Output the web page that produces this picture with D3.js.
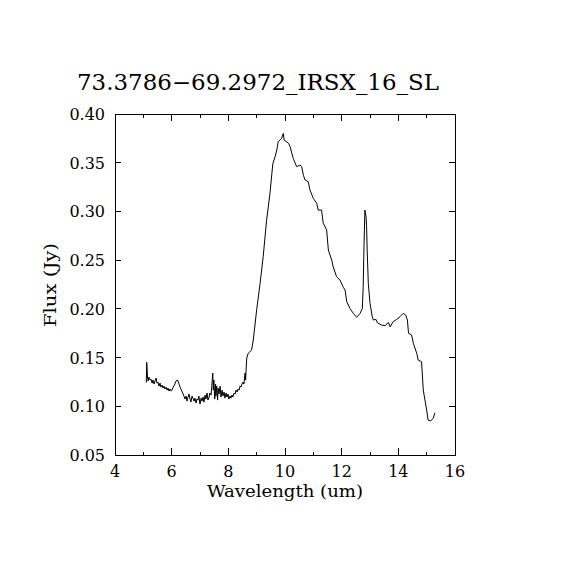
<!DOCTYPE html>
<html>
<head>
<meta charset="utf-8">
<script src="https://cdn.jsdelivr.net/npm/d3@7"></script>
<style>
  body { margin: 0; background: #fff; }
  text { font-family: "DejaVu Serif", "Liberation Serif", serif; fill: #000; }
</style>
</head>
<body>
<svg id="scene" width="570" height="570"></svg>
<script>
const title = '73.3786\u221269.2972_IRSX_16_SL';
const xLabel = 'Wavelength (um)';
const yLabel = 'Flux (Jy)';
const xTicks = [4, 6, 8, 10, 12, 14, 16];
const yTicks = [0.05, 0.10, 0.15, 0.20, 0.25, 0.30, 0.35, 0.40];

// spectrum
const wavelength = [
	5.105, 5.12, 5.15, 5.17, 5.20, 5.24, 5.27, 5.31, 5.34, 5.38, 5.41, 5.45, 5.48, 5.52, 5.55, 5.59,
	5.62, 5.66, 5.69, 5.73, 5.76, 5.80, 5.84, 5.87, 5.91, 5.94, 5.98, 6.01, 6.05, 6.10, 6.15, 6.21,
	6.26, 6.31, 6.36, 6.42, 6.47, 6.51, 6.54, 6.58, 6.61, 6.65, 6.68, 6.72, 6.75, 6.79, 6.82, 6.86,
	6.89, 6.93, 6.96, 7.00, 7.04, 7.07, 7.11, 7.14, 7.18, 7.21, 7.25, 7.28, 7.32, 7.35, 7.39, 7.42,
	7.45, 7.47, 7.49, 7.52, 7.55, 7.56, 7.59, 7.62, 7.64, 7.67, 7.71, 7.74, 7.78, 7.81, 7.85, 7.88,
	7.92, 7.95, 7.99, 8.02, 8.06, 8.09, 8.13, 8.16, 8.20, 8.24, 8.27, 8.31, 8.34, 8.38, 8.41, 8.45,
	8.48, 8.52, 8.55, 8.59, 8.61, 8.63, 8.65, 8.70, 8.82, 8.88, 9.00, 9.12, 9.23, 9.35, 9.47, 9.57,
	9.65, 9.71, 9.76, 9.88, 9.94, 9.97, 10.12, 10.18, 10.29, 10.41, 10.53, 10.59, 10.65, 10.71, 10.82, 10.88,
	11.00, 11.12, 11.17, 11.29, 11.35, 11.47, 11.53, 11.65, 11.70, 11.82, 11.94, 12.06, 12.12, 12.18, 12.29, 12.41,
	12.53, 12.65, 12.73, 12.76, 12.79, 12.82, 12.86, 12.88, 12.90, 12.94, 13.00, 13.08, 13.12, 13.21, 13.26, 13.41,
	13.53, 13.65, 13.71, 13.82, 13.94, 14.06, 14.17, 14.26, 14.32, 14.36, 14.47, 14.53, 14.65, 14.70, 14.82, 14.88,
	14.94, 15.00, 15.05, 15.14, 15.23, 15.29
];
const flux = [
	0.1243, 0.1451, 0.1290, 0.1259, 0.1300, 0.1269, 0.1279, 0.1238, 0.1269, 0.1228, 0.1259, 0.1290, 0.1238, 0.1248, 0.1207, 0.1238,
	0.1197, 0.1218, 0.1187, 0.1207, 0.1177, 0.1197, 0.1166, 0.1187, 0.1156, 0.1177, 0.1156, 0.1166, 0.1197, 0.1218, 0.1259, 0.1269,
	0.1228, 0.1187, 0.1156, 0.1115, 0.1074, 0.1105, 0.1053, 0.1095, 0.1125, 0.1074, 0.1043, 0.1105, 0.1084, 0.1053, 0.1084, 0.1033,
	0.1074, 0.1064, 0.1105, 0.1023, 0.1084, 0.1053, 0.1095, 0.1043, 0.1115, 0.1074, 0.1136, 0.1064, 0.1095, 0.1136, 0.1115, 0.1218,
	0.1341, 0.1166, 0.1269, 0.1074, 0.1228, 0.1105, 0.1207, 0.1064, 0.1187, 0.1125, 0.1207, 0.1095, 0.1166, 0.1105, 0.1146, 0.1084,
	0.1136, 0.1095, 0.1125, 0.1074, 0.1105, 0.1084, 0.1115, 0.1095, 0.1136, 0.1125, 0.1166, 0.1146, 0.1177, 0.1166, 0.1207, 0.1197,
	0.1228, 0.1248, 0.1228, 0.1341, 0.1269, 0.1392, 0.1495, 0.1543, 0.1577, 0.1680, 0.1990, 0.2260, 0.2535, 0.2910, 0.3186, 0.3490,
	0.3560, 0.3630, 0.3716, 0.3750, 0.3800, 0.3733, 0.3700, 0.3664, 0.3545, 0.3460, 0.3476, 0.3460, 0.3370, 0.3322, 0.3305, 0.3220,
	0.3134, 0.3083, 0.3014, 0.3014, 0.2878, 0.2810, 0.2604, 0.2500, 0.2432, 0.2330, 0.2296, 0.2220, 0.2193, 0.2073, 0.2005, 0.1954,
	0.1913, 0.1954, 0.2005, 0.2227, 0.2672, 0.3014, 0.2946, 0.2843, 0.2604, 0.2262, 0.2056, 0.1919, 0.1885, 0.1892, 0.1857, 0.1834,
	0.1827, 0.1861, 0.1816, 0.1868, 0.1892, 0.1919, 0.1954, 0.1936, 0.1885, 0.1749, 0.1731, 0.1646, 0.1543, 0.1474, 0.1457, 0.1166,
	0.1064, 0.0961, 0.0858, 0.0851, 0.0876, 0.0933
];

const plotLeft = 115, plotRight = 455, plotTop = 114, plotBottom = 455;

let scaleX = d3.scaleLinear().domain([4, 16]).range([plotLeft, plotRight]);
let scaleY = d3.scaleLinear().domain([0.05, 0.40]).range([plotBottom, plotTop]);

let svg = d3.select('#scene');

// frame
svg.append('rect')
	.attr('x', plotLeft).attr('y', plotTop)
	.attr('width', plotRight - plotLeft).attr('height', plotBottom - plotTop)
	.attr('fill', 'none').attr('stroke', '#000').attr('stroke-width', 1)
	.attr('shape-rendering', 'crispEdges');

// ticks, all pointing inward
let minorX = d3.range(4, 17, 1);
let tickG = svg.append('g').attr('stroke', '#000').attr('shape-rendering', 'crispEdges');

minorX.forEach(function (v) {
	let len = (v % 2 === 0) ? 7 : 3.5;
	tickG.append('line').attr('x1', scaleX(v)).attr('x2', scaleX(v)).attr('y1', plotBottom).attr('y2', plotBottom - len);
	tickG.append('line').attr('x1', scaleX(v)).attr('x2', scaleX(v)).attr('y1', plotTop).attr('y2', plotTop + len);
});
yTicks.forEach(function (v) {
	tickG.append('line').attr('x1', plotLeft).attr('x2', plotLeft + 6).attr('y1', scaleY(v)).attr('y2', scaleY(v));
	tickG.append('line').attr('x1', plotRight).attr('x2', plotRight - 6).attr('y1', scaleY(v)).attr('y2', scaleY(v));
});

// tick labels
svg.selectAll('text.xt').data(xTicks).enter().append('text')
	.attr('class', 'xt')
	.attr('x', (d) => scaleX(d))
	.attr('y', 477)
	.attr('text-anchor', 'middle')
	.attr('font-size', 16)
	.text((d) => d);

svg.selectAll('text.yt').data(yTicks).enter().append('text')
	.attr('class', 'yt')
	.attr('x', 105)
	.attr('y', (d) => scaleY(d) + 6)
	.attr('text-anchor', 'end')
	.attr('font-size', 16)
	.text((d) => d.toFixed(2));

// titles
svg.append('text')
	.attr('x', 258).attr('y', 90)
	.attr('text-anchor', 'middle')
	.attr('font-size', 22)
	.attr('textLength', 362).attr('lengthAdjust', 'spacingAndGlyphs')
	.text(title);

svg.append('text')
	.attr('x', 285).attr('y', 497)
	.attr('text-anchor', 'middle')
	.attr('font-size', 16)
	.attr('textLength', 156).attr('lengthAdjust', 'spacingAndGlyphs')
	.text(xLabel);

svg.append('text')
	.attr('transform', 'translate(56,285) rotate(-90)')
	.attr('text-anchor', 'middle')
	.attr('font-size', 16)
	.attr('textLength', 84).attr('lengthAdjust', 'spacingAndGlyphs')
	.text(yLabel);

// spectrum
let pts = wavelength.map((w, i) => [w, flux[i]]);
let line = d3.line().x((d) => scaleX(d[0])).y((d) => scaleY(d[1]));

svg.append('path')
	.datum(pts)
	.attr('d', line)
	.attr('fill', 'none')
	.attr('stroke', '#000')
	.attr('stroke-width', 1);
</script>
</body>
</html>
